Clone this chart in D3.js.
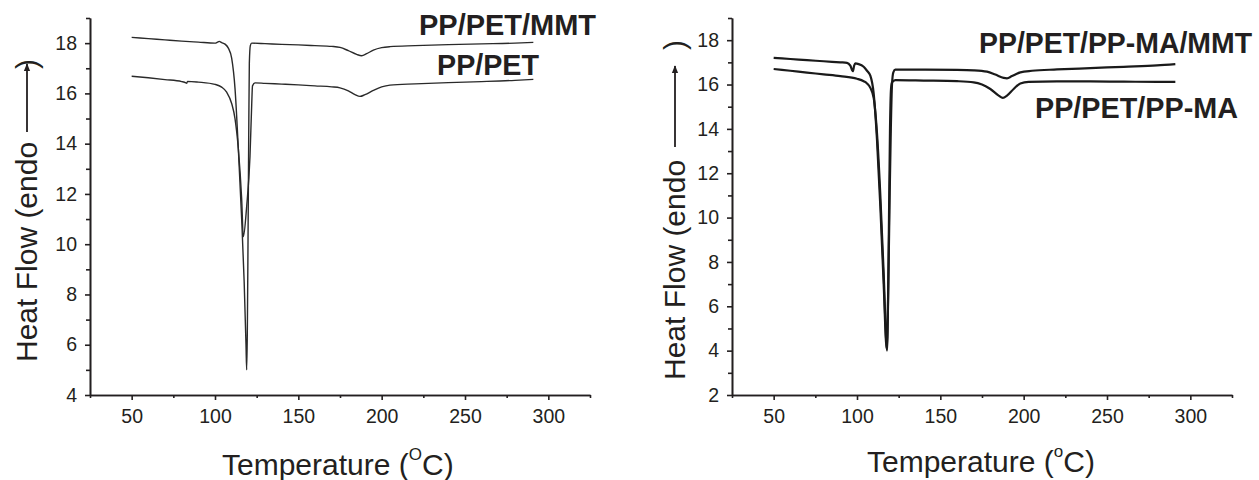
<!DOCTYPE html>
<html>
<head>
<meta charset="utf-8">
<script src="https://cdn.jsdelivr.net/npm/d3@7"></script>
<style>
  body { margin: 0; background: #fff; }
  svg { display: block; font-family: "Liberation Sans", Arial, sans-serif; }
  .axis path, .axis line { stroke: #231f20; stroke-width: 1.6px; }
  .axis text { font-size: 19.5px; fill: #231f20; font-family: "Liberation Sans", Arial, sans-serif; }
</style>
</head>
<body>
<div id="chart"></div>
<script>
// DSC traces, [temperature (C), heat flow]
var ppPetMmt = [[50,18.23],[60,18.18],[70,18.13],[80,18.08],[90,18.04],[100,18.0],[101.5,18.04],[102.5,18.07],
  [104,18.02],[106,17.96],[108,17.8],[110,17.4],[112,16.2],[114,13.8],[116,11.0],[117.5,8.5],[118.6,6.0],[119,5.0],
  [119.4,6.5],[119.8,10],[120.2,14],[120.6,17.2],[121.2,17.9],[122,18.0],[130,17.98],[140,17.95],[150,17.93],
  [160,17.9],[170,17.87],[175,17.83],[180,17.7],[185,17.55],[188,17.5],[191,17.58],[195,17.72],[200,17.82],
  [205,17.86],[220,17.9],[240,17.94],[260,17.97],[280,18.0],[291,18.03]];
var ppPet = [[50,16.68],[60,16.62],[70,16.55],[80,16.47],[82.5,16.42],[83,16.4],[83.5,16.48],[90,16.45],[100,16.36],
  [104,16.25],[107,16.05],[110,15.6],[112,15.0],[114,13.8],[116,11.8],[117,10.3],[119,11.5],[121,13.5],[122,15.5],
  [122.5,16.3],[124,16.42],[130,16.4],[140,16.37],[150,16.34],[160,16.3],[170,16.26],[175,16.22],[180,16.1],
  [184,15.95],[187,15.88],[190,15.95],[195,16.12],[200,16.26],[205,16.33],[220,16.38],[240,16.43],[260,16.47],
  [280,16.52],[291,16.56]];
var ppPetMaMmt = [[50,17.2],[60,17.15],[70,17.1],[80,17.05],[90,17.0],[94,16.98],[96,16.85],[97.5,16.6],[98.3,16.85],
  [99,16.95],[101,16.92],[104,16.8],[106,16.62],[108,16.4],[110,15.6],[112,13.5],[114,10.5],[116,7.0],[117.8,4.1],
  [118.8,7.0],[119.6,11],[120.3,14],[121,16],[121.8,16.55],[123,16.67],[140,16.67],[160,16.66],[170,16.64],
  [178,16.58],[183,16.45],[188,16.3],[190,16.28],[193,16.38],[198,16.55],[205,16.62],[220,16.68],[240,16.74],
  [260,16.8],[280,16.86],[291,16.92]];
var ppPetMa = [[50,16.7],[60,16.62],[70,16.54],[80,16.46],[90,16.38],[100,16.26],[104,16.15],[106,16.05],[108,15.85],
  [110,15.4],[112,13.8],[114,11.0],[116,7.5],[117.5,4.5],[118,4.0],[118.6,6.0],[119.2,10],[119.8,14],[120.4,15.8],
  [121,16.1],[123,16.2],[140,16.18],[160,16.15],[170,16.1],[175,16.0],[180,15.8],[185,15.5],[187.5,15.4],[190,15.5],
  [194,15.8],[198,16.05],[203,16.12],[220,16.14],[240,16.14],[260,16.13],[280,16.12],[291,16.12]];

var xTicks = [50, 100, 150, 200, 250, 300];
var xMinor = [25, 75, 125, 175, 225, 275, 325];
var yTicksLeft = [4, 6, 8, 10, 12, 14, 16, 18];
var yMinorLeft = [5, 7, 9, 11, 13, 15, 17, 19];
var yTicksRight = [2, 4, 6, 8, 10, 12, 14, 16, 18];
var yMinorRight = [3, 5, 7, 9, 11, 13, 15, 17, 19];

var W = 1259, H = 480;
var ink = '#231f20';

var svg = d3.select('#chart').append('svg')
            .attr('width', W)
            .attr('height', H);

var defs = svg.append('defs');
defs.append('marker')
    .attr('id', 'arrow')
    .attr('viewBox', '0 0 10 10')
    .attr('refX', 9).attr('refY', 5)
    .attr('markerWidth', 8).attr('markerHeight', 8)
    .attr('markerUnits', 'userSpaceOnUse')
    .attr('orient', 'auto')
    .append('path')
    .attr('d', 'M0,1 L10,5 L0,9 Z')
    .attr('fill', ink);

/**
 * Draws one DSC panel: axes, traces, labels
 */
function drawPanel(p) {
  var x = d3.scaleLinear().domain([25, 325]).range([p.left, p.left + 500]);
  var y = d3.scaleLinear().domain(p.yDomain).range([395, 18]);

  // minor ticks first, then the major axis on top
  svg.append('g')
     .attr('class', 'axis')
     .attr('transform', 'translate(0,395)')
     .call(d3.axisBottom(x).tickValues(xMinor).tickSize(3).tickSizeOuter(0).tickFormat(''));
  svg.append('g')
     .attr('class', 'axis')
     .attr('transform', 'translate(0,395)')
     .call(d3.axisBottom(x).tickValues(xTicks).tickSize(5).tickSizeOuter(0).tickPadding(9));

  svg.append('g')
     .attr('class', 'axis')
     .attr('transform', 'translate(' + p.left + ',0)')
     .call(d3.axisLeft(y).tickValues(p.yMinor).tickSize(4).tickSizeOuter(0).tickFormat(''));
  svg.append('g')
     .attr('class', 'axis')
     .attr('transform', 'translate(' + p.left + ',0)')
     .call(d3.axisLeft(y).tickValues(p.yTicks).tickSize(5).tickSizeOuter(0).tickPadding(8));

  var line = d3.line()
               .x(function(d) { return x(d[0]); })
               .y(function(d) { return y(d[1]); })
               .curve(d3.curveMonotoneX);

  p.series.forEach(function(s) {
    svg.append('path')
       .datum(s)
       .attr('d', line)
       .attr('fill', 'none')
       .attr('stroke', p.stroke)
       .attr('stroke-width', p.width)
       .attr('stroke-linejoin', 'round');
  });

  // series names, squeezed to the width they take in the original
  p.labels.forEach(function(l) {
    svg.append('text')
       .attr('x', l.x)
       .attr('y', l.y)
       .attr('font-size', p.labelSize + 'px')
       .attr('font-weight', 'bold')
       .attr('fill', ink)
       .attr('textLength', l.w)
       .attr('lengthAdjust', 'spacingAndGlyphs')
       .text(l.text);
  });

  // y title: "Heat Flow (endo ---> )"
  svg.append('text')
     .attr('transform', 'translate(' + p.yTitleX + ',' + p.yTitleBottom + ')rotate(-90)')
     .attr('font-size', '30px')
     .attr('fill', ink)
     .text('Heat Flow (endo');
  svg.append('line')
     .attr('x1', p.yTitleX - 10).attr('x2', p.yTitleX - 10)
     .attr('y1', p.arrowFrom).attr('y2', p.arrowTo)
     .attr('stroke', ink)
     .attr('stroke-width', 1.8)
     .attr('marker-end', 'url(#arrow)');
  svg.append('text')
     .attr('transform', 'translate(' + p.yTitleX + ',' + p.parenY + ')rotate(-90)')
     .attr('font-size', '30px')
     .attr('fill', ink)
     .text(')');

  // x title with superscript degree
  var xt = svg.append('text')
              .attr('x', p.xTitleX)
              .attr('y', p.xTitleY)
              .attr('font-size', '30px')
              .attr('fill', ink);
  xt.append('tspan').text('Temperature (');
  xt.append('tspan').attr('font-size', '17px').attr('dy', -15).text(p.degree);
  xt.append('tspan').attr('font-size', '30px').attr('dy', 15).text('C)');
}

drawPanel({
  left: 90,
  yDomain: [4, 19],
  yTicks: yTicksLeft,
  yMinor: yMinorLeft,
  series: [ppPetMmt, ppPet],
  stroke: '#2a2a2a',
  width: 1.4,
  labelSize: 29,
  labels: [
    {text: 'PP/PET/MMT', x: 419, y: 35, w: 177},
    {text: 'PP/PET', x: 437, y: 75, w: 102}
  ],
  yTitleX: 37, yTitleBottom: 362, arrowFrom: 132, arrowTo: 64, parenY: 69,
  xTitleX: 222, xTitleY: 475, degree: 'O'
});

drawPanel({
  left: 732,
  yDomain: [2, 19],
  yTicks: yTicksRight,
  yMinor: yMinorRight,
  series: [ppPetMaMmt, ppPetMa],
  stroke: '#1a1a1a',
  width: 2.2,
  labelSize: 29,
  labels: [
    {text: 'PP/PET/PP-MA/MMT', x: 979, y: 53, w: 273},
    {text: 'PP/PET/PP-MA', x: 1035, y: 118, w: 203}
  ],
  yTitleX: 685, yTitleBottom: 380, arrowFrom: 147, arrowTo: 66, parenY: 50,
  xTitleX: 867, xTitleY: 472, degree: 'o'
});
</script>
</body>
</html>
